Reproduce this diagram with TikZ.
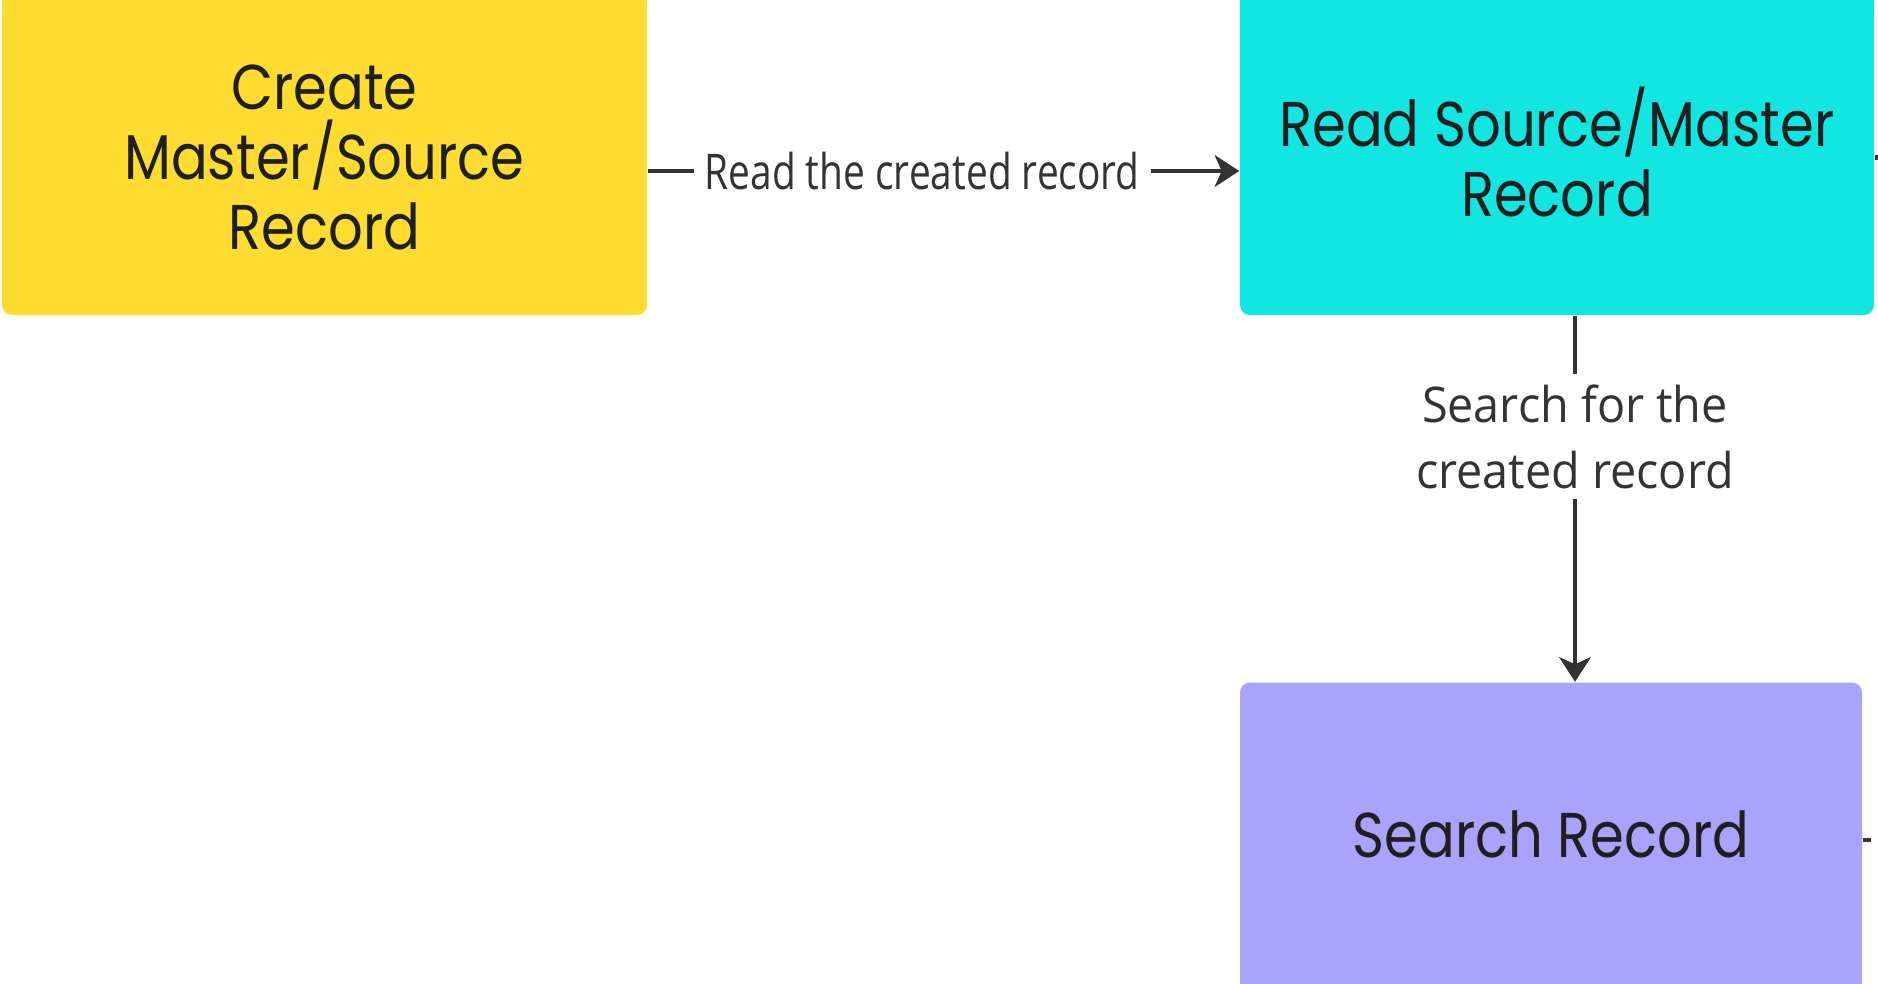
\documentclass[tikz,border=0pt]{standalone}
\usepackage{fontspec}
\setmainfont{Open Sans}[FakeStretch=0.79]
\newfontfamily\widefont{Open Sans}[FakeStretch=0.95]
\newfontfamily\boxfont{Poppins}[FakeStretch=0.86]
\usetikzlibrary{arrows.meta}
\definecolor{createfill}{HTML}{FEDC32}
\definecolor{readfill}{HTML}{11E6E1}
\definecolor{searchfill}{HTML}{AAA3FC}
\definecolor{boxtext}{HTML}{1F1F1F}
\definecolor{linegray}{HTML}{333333}
\tikzset{
  box/.style={rectangle, rounded corners=0.1cm, minimum height=3.15cm, inner sep=0pt,
    align=center, text=boxtext, font=\boxfont\fontsize{18}{20}\selectfont},
  lbl/.style={fill=white, inner xsep=0.11cm, inner ysep=0.1cm, align=center,
    text=linegray, font=\fontsize{14}{18.8}\selectfont},
  flow/.style={draw=linegray, line width=1.2pt, -{Stealth[length=7pt,width=9pt,inset=2pt]}},
}

\begin{document}
\begin{tikzpicture}
		%%%%% START %%%%%
		\useasboundingbox (0,0) rectangle (18.78,9.83);
		\clip (0,0) rectangle (18.78,9.83);
		
		% top edges run past the picture
		\fill[createfill] (0.02,9.6) rectangle (6.47,9.83);
		\fill[readfill] (12.40,9.6) rectangle (18.74,9.83);
		
		\node[box, fill=createfill, minimum width=6.45cm] (create) at (3.245, 8.255) {Create\\Master/Source\\Record};
		\node[box, fill=readfill, minimum width=6.34cm, text depth=3.5pt] (read) at (15.57, 8.255) {Read Source/Master\\Record};
		\node[box, fill=searchfill, minimum width=6.22cm, text depth=3.5pt] (search) at (15.51, 1.43) {Search Record};
		
		\coordinate (acrossy) at (0, 8.12);
		\coordinate (downx) at (15.75, 0);
		
		\draw[flow] (create.east |- acrossy) -- node[lbl, pos=0.464] {Read the created record} (read.west |- acrossy);
		\draw[flow] (read.south -| downx) -- node[lbl, pos=0.33, font=\widefont\fontsize{14}{18.8}\selectfont] {Search for the\\created record} (search.north -| downx);
		
		% cut-off lines leaving to the right
		\draw[linegray, line width=1.2pt] (read.east) -- ++(0.06, 0);
		\draw[linegray, line width=1.2pt] (search.east) -- ++(0.08, 0);
		
		%%%%% END %%%%%
\end{tikzpicture}
\end{document}
